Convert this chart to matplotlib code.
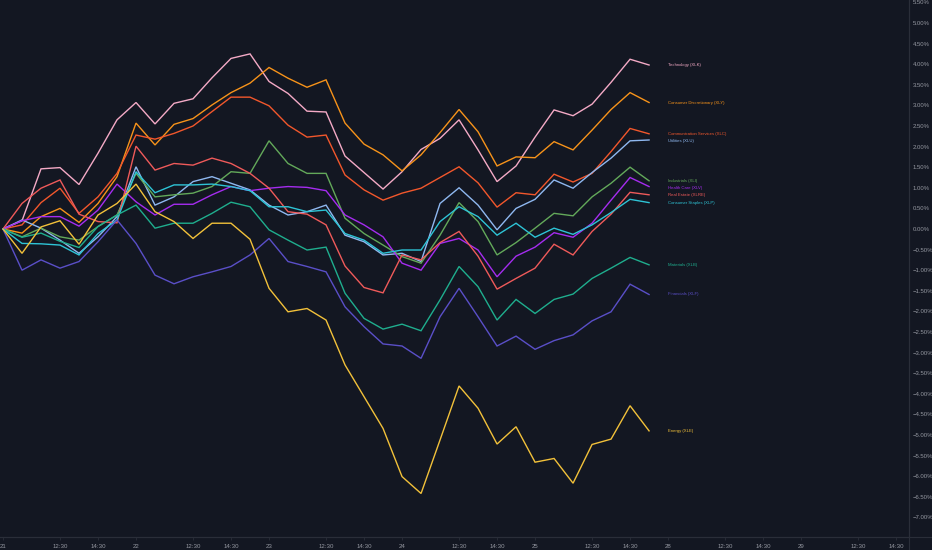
import matplotlib
matplotlib.use("Agg")
import matplotlib.pyplot as plt
from matplotlib.lines import Line2D
import numpy as np

# ---------------- data ----------------
sectors = ["Technology (XLK)", "Consumer Discretionary (XLY)", "Communication Services (XLC)",
           "Utilities (XLU)", "Industrials (XLI)", "Health Care (XLV)", "Real Estate (XLRE)",
           "Consumer Staples (XLP)", "Materials (XLB)", "Financials (XLF)", "Energy (XLE)"]

xlk = [0, 0.20, 1.46, 1.49, 1.08, 1.84, 2.65, 3.07, 2.55, 3.05, 3.16, 3.67, 4.14, 4.25, 3.58, 3.29,
       2.86, 2.84, 1.77, 1.37, 0.97, 1.39, 1.93, 2.20, 2.65, 1.92, 1.15, 1.53, 2.23, 2.89, 2.75, 3.03,
       3.56, 4.12, 3.98]
xly = [0, -0.10, 0.30, 0.50, 0.16, 0.62, 1.27, 2.57, 2.04, 2.54, 2.68, 3.01, 3.31, 3.54, 3.92, 3.66,
       3.44, 3.62, 2.57, 2.06, 1.80, 1.41, 1.80, 2.34, 2.90, 2.36, 1.53, 1.75, 1.73, 2.12, 1.92, 2.40,
       2.90, 3.31, 3.07]
xlc = [0, 0.10, 0.64, 0.99, 0.38, 0.78, 1.35, 2.28, 2.18, 2.32, 2.50, 2.85, 3.20, 3.20, 2.99, 2.52,
       2.23, 2.28, 1.31, 0.95, 0.70, 0.87, 0.99, 1.25, 1.51, 1.12, 0.53, 0.88, 0.83, 1.33, 1.14, 1.35,
       1.88, 2.44, 2.31]
xlu = [0, 0.22, 0.02, -0.27, -0.59, -0.19, 0.30, 1.51, 0.58, 0.78, 1.15, 1.27, 1.11, 0.95, 0.58, 0.34,
       0.42, 0.58, -0.15, -0.31, -0.63, -0.59, -0.79, 0.62, 1.00, 0.58, -0.02, 0.50, 0.72, 1.19, 0.99,
       1.37, 1.72, 2.14, 2.16]
xli = [0, -0.19, 0.02, -0.19, -0.27, 0.06, 0.34, 1.35, 0.78, 0.83, 0.87, 1.03, 1.39, 1.35, 2.14, 1.59,
       1.35, 1.35, 0.26, -0.11, -0.39, -0.67, -0.83, -0.15, 0.64, 0.18, -0.63, -0.33, 0.02, 0.38, 0.32,
       0.78, 1.11, 1.50, 1.17]
xlv = [0, 0.20, 0.30, 0.30, 0.07, 0.46, 1.09, 0.66, 0.34, 0.60, 0.60, 0.83, 1.03, 0.93, 0.99, 1.03,
       1.01, 0.93, 0.34, 0.10, -0.19, -0.83, -1.00, -0.35, -0.23, -0.51, -1.16, -0.66, -0.44, -0.09,
       -0.20, 0.14, 0.70, 1.25, 1.03]
xlre = [0, 0.62, 0.99, 1.19, 0.36, 0.18, 0.15, 2.01, 1.43, 1.59, 1.55, 1.72, 1.59, 1.35, 0.99, 0.42,
        0.36, 0.10, -0.90, -1.42, -1.55, -0.63, -0.75, -0.33, -0.06, -0.66, -1.46, -1.20, -0.95, -0.37,
        -0.63, -0.06, 0.36, 0.89, 0.83]
xlp = [0, -0.35, -0.36, -0.39, -0.63, -0.11, 0.22, 1.39, 0.88, 1.07, 1.07, 1.09, 1.03, 0.93, 0.54,
       0.54, 0.42, 0.46, -0.11, -0.27, -0.59, -0.51, -0.51, 0.18, 0.54, 0.30, -0.15, 0.14, -0.20, 0.02,
       -0.13, 0.10, 0.40, 0.72, 0.64]
xlb = [0, -0.20, -0.10, -0.30, -0.45, 0.06, 0.34, 0.58, 0.02, 0.14, 0.14, 0.38, 0.65, 0.54, -0.02,
       -0.27, -0.51, -0.44, -1.56, -2.17, -2.43, -2.31, -2.47, -1.72, -0.91, -1.40, -2.21, -1.71, -2.05,
       -1.71, -1.58, -1.20, -0.95, -0.69, -0.87]
xlf = [0, -1.00, -0.75, -0.95, -0.79, -0.31, 0.22, -0.35, -1.12, -1.33, -1.16, -1.04, -0.91, -0.63,
       -0.23, -0.79, -0.91, -1.04, -1.89, -2.37, -2.79, -2.84, -3.14, -2.13, -1.44, -2.13, -2.84, -2.60,
       -2.92, -2.71, -2.57, -2.23, -2.01, -1.34, -1.59]
xle = [0, -0.59, 0.05, 0.20, -0.37, 0.34, 0.62, 1.09, 0.42, 0.18, -0.23, 0.14, 0.14, -0.25, -1.44,
       -2.01, -1.93, -2.21, -3.30, -4.07, -4.84, -6.01, -6.42, -5.12, -3.81, -4.35, -5.22, -4.80, -5.66,
       -5.57, -6.17, -5.23, -5.10, -4.29, -4.90]

series = [xlk, xly, xlc, xlu, xli, xlv, xlre, xlp, xlb, xlf, xle]
colors = ["#f4aac6", "#f7931a", "#f2572c", "#8fb8f0", "#63a95a", "#a52cf0", "#ef5a5a",
          "#2ec4d6", "#1fae8e", "#5a4fc8", "#f2c13a"]

day_labels = ["21", "22", "23", "24", "25", "28", "29"]
intraday_labels = ["12:30", "14:30"]
y_ticks = [5.5, 5.0, 4.5, 4.0, 3.5, 3.0, 2.5, 2.0, 1.5, 1.0, 0.5, 0.0, -0.5, -1.0, -1.5, -2.0,
           -2.5, -3.0, -3.5, -4.0, -4.5, -5.0, -5.5, -6.0, -6.5, -7.0]

# ---------------- style ----------------
BG = "#131722"
AX = "#2a2e39"
TXT = "#9598a1"
FONT = "Liberation Sans"
bars_per_day = 7

W, H = 932, 550
fig = plt.figure(figsize=(W / 100, H / 100), dpi=100, facecolor=BG)
ax = fig.add_axes([0, 13 / H, 909 / W, 1 - 13 / H])
ax.set_facecolor(BG)

x = np.arange(len(xlk))
for vals, col in zip(series, colors):
    ax.plot(x, vals, color=col, lw=1.0, solid_joinstyle="miter")

# labels at the end of lines with simple de-overlap
last = [(s[-1], i) for i, s in enumerate(series)]
last.sort(key=lambda t: -t[0])
gap = 0.17
placed = {}
prev = None
for v, i in last:
    y = v if prev is None else min(v, prev - gap)
    placed[i] = y
    prev = y
for i, name in enumerate(sectors):
    ax.text(len(xlk), placed[i], name, color=colors[i], fontsize=3.1, va="center", ha="left",
            family=FONT)

# axes limits
ax.set_xlim(-0.158, 47.68)
ax.set_ylim(-7.476, 5.558)

# x ticks
xt, xl = [], []
for d, lab in enumerate(day_labels):
    xt += [d * bars_per_day, d * bars_per_day + 3, d * bars_per_day + 5]
    xl += [lab] + intraday_labels
ax.set_xticks(xt)
ax.set_xticklabels(xl, family=FONT)
ax.tick_params(axis="x", colors=AX, labelcolor=TXT, labelsize=4.4, length=2, width=0.6, pad=3)

ax.yaxis.tick_right()
ax.set_yticks(y_ticks)
ax.set_yticklabels([(f"{v:.2f}%").replace("-", "\u2212") for v in y_ticks], family=FONT)
ax.tick_params(axis="y", colors=AX, labelcolor=TXT, labelsize=4.3, length=0, pad=2.5)

for side in ["left", "top"]:
    ax.spines[side].set_visible(False)
for side in ["right", "bottom"]:
    ax.spines[side].set_color(AX)
    ax.spines[side].set_linewidth(0.8)

# extend separators across the figure like the reference
fig.add_artist(Line2D([909 / W, 909 / W], [0, 1], transform=fig.transFigure, color=AX, lw=0.8))
fig.add_artist(Line2D([0, 1], [13 / H, 13 / H], transform=fig.transFigure, color=AX, lw=0.8))

fig.savefig("out.png", dpi=100, facecolor=BG)
